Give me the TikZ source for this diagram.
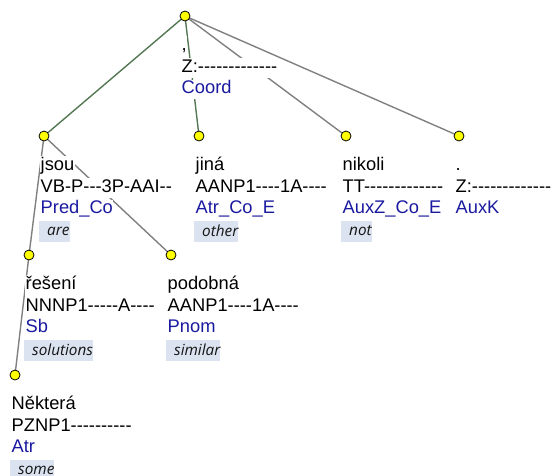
\documentclass[tikz,border=0pt]{standalone}
\usepackage{fontspec}
\setmainfont{Liberation Sans}[Ligatures=TeXOff]
\newfontfamily\glossfont{Open Sans}[Ligatures=TeXOff]
\usetikzlibrary{backgrounds}
\definecolor{afblue}{RGB}{26,26,160}
\definecolor{edgegreen}{RGB}{84,120,84}
\definecolor{edgegray}{RGB}{128,128,128}
\definecolor{glossbg}{RGB}{220,227,240}
\definecolor{glossfg}{RGB}{20,20,20}
\definecolor{vyellow}{RGB}{255,255,0}
\tikzset{
  vtx/.style={circle, draw=black, line width=0.8pt, fill=vyellow, minimum size=10pt, inner sep=0pt},
  lab/.style={anchor=base west, fill=white, inner xsep=0.5pt, inner ysep=0pt, text height=14pt, text depth=5.5pt, font=\fontsize{18.3}{22}\selectfont},
  afun/.style={lab, text=afblue},
  glossbox/.style={anchor=west, fill=glossbg, text=glossfg, inner xsep=0pt, inner ysep=0pt, minimum height=21pt, font=\glossfont\itshape\fontsize{15.3}{17}\selectfont},
  member/.style={draw=edgegreen, line width=1.4pt},
  plainedge/.style={draw=edgegray, line width=1.4pt},
}
% name, x, y, form, tag, afun
\newcommand\tnode[6]{%
  \node[vtx] (#1) at (#2,#3) {};
  \begin{scope}[shift={(#2,#3)}]
    \node[lab] (#1-f) at (-4,34) {#4};
    \node[lab] (#1-t) at (-4,56) {#5};
    \node[afun] (#1-a) at (-4,77.5) {#6};
  \end{scope}}
% name, x, y, gloss
\newcommand\tgloss[4]{%
  \begin{scope}[shift={(#2,#3)}]
    \node[glossbox] (#1-g) at (-5,95) {\hspace{8pt}#4\hspace{10pt}};
  \end{scope}}
\begin{document}
\begin{tikzpicture}[x=1pt,y=-1pt]
  \useasboundingbox (0,0) rectangle (553,475);
  \tnode{root}{185}{16}{,}{Z:-------------}{Coord}
  \tnode{jsou}{44}{136}{jsou}{VB-P---3P-AAI--}{Pred\_Co}
  \tgloss{jsou}{44}{136}{are}
  \tnode{jina}{199}{136}{jiná}{AANP1----1A----}{Atr\_Co\_E}
  \tgloss{jina}{199}{136}{other}
  \tnode{nikoli}{346}{136}{nikoli}{TT-------------}{AuxZ\_Co\_E}
  \tgloss{nikoli}{346}{136}{not}
  \tnode{dot}{459}{136}{.}{Z:-------------}{AuxK}
  \tnode{reseni}{29}{255}{řešení}{NNNP1-----A----}{Sb}
  \tgloss{reseni}{29}{255}{solutions}
  \tnode{podobna}{171}{255}{podobná}{AANP1----1A----}{Pnom}
  \tgloss{podobna}{171}{255}{similar}
  \tnode{nektera}{15}{375}{Některá}{PZNP1----------}{Atr}
  \tgloss{nektera}{15}{375}{some}
  \begin{pgfonlayer}{background}
    \draw[member] (root.center) -- (jsou.center);
    \draw[member] (root.center) -- (jina.center);
    \draw[plainedge] (root.center) -- (nikoli.center);
    \draw[plainedge] (root.center) -- (dot.center);
    \draw[plainedge] (jsou.center) -- (reseni.center);
    \draw[plainedge] (jsou.center) -- (podobna.center);
    \draw[plainedge] (reseni.center) -- (nektera.center);
  \end{pgfonlayer}
\end{tikzpicture}
\end{document}
